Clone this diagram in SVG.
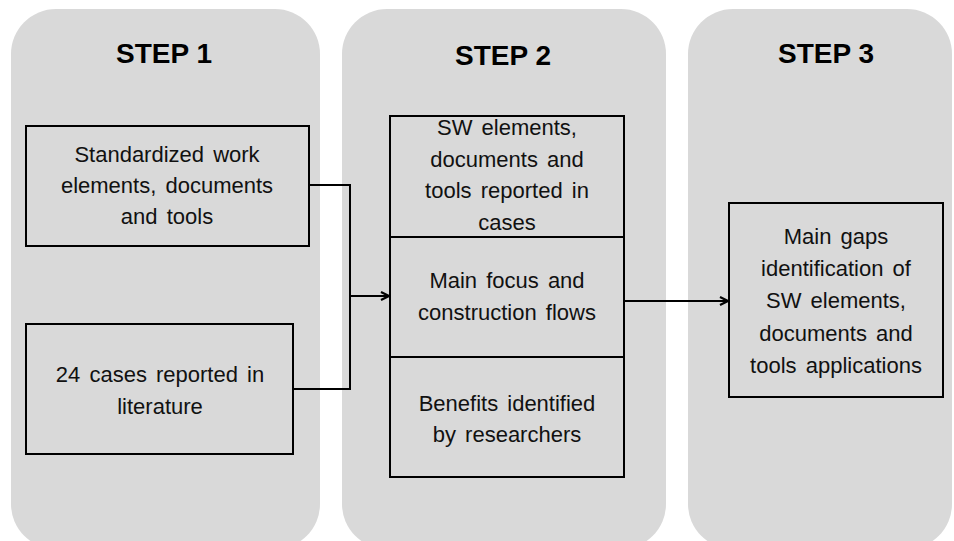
<svg xmlns="http://www.w3.org/2000/svg" width="954" height="541" viewBox="0 0 954 541">
  <style>
    .panel { fill: #d9d9d9; }
    .title { font-family: "Liberation Sans", Arial, sans-serif; font-weight: bold; font-size: 28px; fill: #000; text-anchor: middle; }
    .box { fill: #d9d9d9; stroke: #000; stroke-width: 2; }
    .label { font-family: "Liberation Sans", Arial, sans-serif; font-size: 22px; fill: #111; text-anchor: middle; word-spacing: 3px; }
    .conn { fill: none; stroke: #000; stroke-width: 2; }
  </style>
  <defs>
    <marker id="arrow" viewBox="0 0 10 10" refX="9" refY="5" markerWidth="10" markerHeight="10" markerUnits="userSpaceOnUse" orient="auto">
      <path d="M1,1 L9,5 L1,9" fill="none" stroke="#000" stroke-width="2.2"/>
    </marker>
  </defs>

  <!-- step panels -->
  <g id="step1">
    <rect class="panel" x="11" y="9" width="309" height="540" rx="45"/>
    <text class="title" x="164" y="63">STEP 1</text>
  </g>
  <g id="step2">
    <rect class="panel" x="342" y="9" width="324" height="540" rx="45"/>
    <text class="title" x="503" y="65">STEP 2</text>
  </g>
  <g id="step3">
    <rect class="panel" x="688" y="9" width="264" height="540" rx="45"/>
    <text class="title" x="826" y="63">STEP 3</text>
  </g>

  <!-- step 1 inputs -->
  <g id="sw-elements">
    <rect class="box" x="26" y="126" width="283" height="120"/>
    <text class="label" x="167" y="162">Standardized work</text>
    <text class="label" x="167" y="193">elements, documents</text>
    <text class="label" x="167" y="224">and tools</text>
  </g>
  <g id="cases">
    <rect class="box" x="26" y="324" width="267" height="130"/>
    <text class="label" x="160" y="382">24 cases reported in</text>
    <text class="label" x="160" y="414">literature</text>
  </g>

  <!-- step 2 analysis stack -->
  <g id="reported">
    <rect class="box" x="390" y="116" width="234" height="121"/>
    <text class="label" x="507" y="135">SW elements,</text>
    <text class="label" x="507" y="167">documents and</text>
    <text class="label" x="507" y="198">tools reported in</text>
    <text class="label" x="507" y="230">cases</text>
  </g>
  <g id="focus">
    <rect class="box" x="390" y="237" width="234" height="120"/>
    <text class="label" x="507" y="288">Main focus and</text>
    <text class="label" x="507" y="320">construction flows</text>
  </g>
  <g id="benefits">
    <rect class="box" x="390" y="357" width="234" height="120"/>
    <text class="label" x="507" y="411">Benefits identified</text>
    <text class="label" x="507" y="442">by researchers</text>
  </g>

  <!-- step 3 result -->
  <g id="gaps">
    <rect class="box" x="729" y="203" width="214" height="194"/>
    <text class="label" x="836" y="244">Main gaps</text>
    <text class="label" x="836" y="276">identification of</text>
    <text class="label" x="836" y="308">SW elements,</text>
    <text class="label" x="836" y="341">documents and</text>
    <text class="label" x="836" y="373">tools applications</text>
  </g>

  <!-- connectors -->
  <g id="connectors">
    <polyline class="conn" points="309,185 350,185 350,389 293,389"/>
    <line class="conn" x1="350" y1="296" x2="389" y2="296" marker-end="url(#arrow)"/>
    <line class="conn" x1="624" y1="301" x2="728" y2="301" marker-end="url(#arrow)"/>
  </g>
</svg>
